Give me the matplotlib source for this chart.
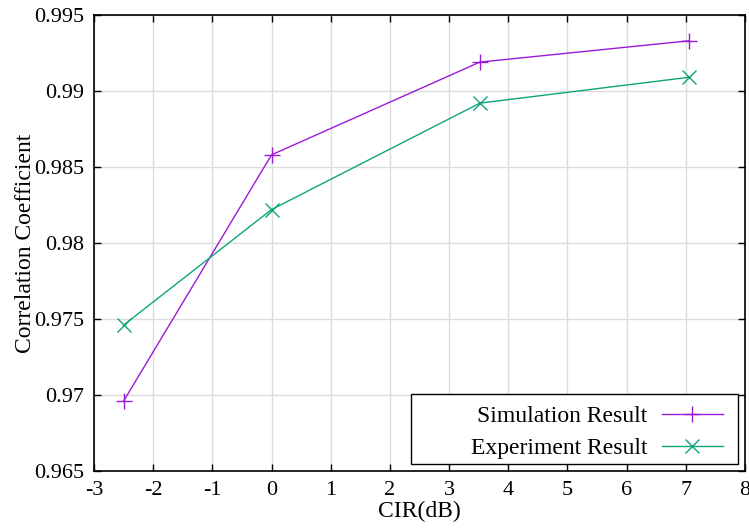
import numpy as np
import matplotlib
matplotlib.use("Agg")
import matplotlib.pyplot as plt
from matplotlib.patches import Rectangle
from matplotlib.ticker import FuncFormatter

# data
cir = [-2.5, 0, 3.52, 7.05]
sim = [0.9696, 0.9858, 0.9919, 0.9933]
exp_ = [0.9746, 0.9822, 0.9892, 0.9909]

xticks = np.arange(-3, 9, 1)
yticks = [0.965, 0.97, 0.975, 0.98, 0.985, 0.99, 0.995]

plt.rcParams['font.family'] = ['Liberation Serif', 'DejaVu Serif']
plt.rcParams['font.size'] = 16
plt.rcParams['axes.unicode_minus'] = False

fig = plt.figure(figsize=(7.49, 5.31), dpi=100)
ax = fig.add_axes([0.1255, 0.113, 0.8692, 0.8588])

ax.plot(cir, sim, '-', marker='+', color='#9b1ad8', lw=1.0, ms=12, mew=1.0,
        label='Simulation Result')
ax.plot(cir, exp_, '-', marker='x', color='#0fa47c', lw=1.0, ms=10, mew=1.0,
        label='Experiment Result')

ax.set_xlim(-3, 8)
ax.set_ylim(0.965, 0.995)
ax.set_xticks(xticks)
ax.set_yticks(yticks)
ax.yaxis.set_major_formatter(FuncFormatter(lambda v, p: '%g' % round(v, 4)))
ax.tick_params(direction='in', top=True, right=True, length=5, width=1, pad=7,
               labelsize=16)
ax.grid(True, color='#dcdcdc', lw=1)
ax.set_axisbelow(True)
for s in ax.spines.values():
    s.set_linewidth(1.2)

ax.set_xlabel('CIR(dB)', labelpad=1, fontsize=17)
ax.set_ylabel('Correlation Coefficient', labelpad=-1, fontsize=17)

# legend text on the left, sample on the right, wide frame drawn separately
leg = ax.legend(loc='lower right', markerfirst=False, frameon=False,
                borderpad=0, borderaxespad=0, handlelength=2.6, handletextpad=0.6,
                labelspacing=0.45, bbox_to_anchor=(0.966, 0.026), fontsize=17)
for t in leg.get_texts():
    t.set_ha('right')
ax.add_patch(Rectangle((0.487, 0.0154), 0.502, 0.1536, transform=ax.transAxes,
                       fill=True, facecolor='white', edgecolor='black', lw=1.0,
                       zorder=4))
leg.set_zorder(5)

plt.savefig('out.png', dpi=100)
